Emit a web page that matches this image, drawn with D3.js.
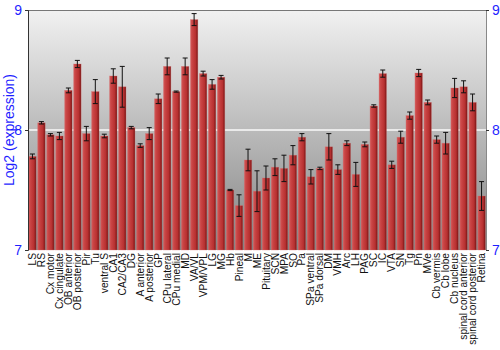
<!DOCTYPE html>
<html>
<head>
<meta charset="utf-8">
<script src="https://cdn.jsdelivr.net/npm/d3@7"></script>
<style>
  body { margin: 0; background: #fff; }
  svg text { font-family: "Liberation Sans", Arial, sans-serif; }
</style>
</head>
<body>
<figure id="bar-chart" style="margin:0"></figure>
<script>
// regions (x categories)
const regions = ["LS", "RS", "Cx motor", "Cx cingulate", "OB anterior", "OB posterior", "Pir", "Tu",
  "ventral S", "CA1", "CA2/CA3", "DG", "A anterior", "A posterior", "GP", "CPu lateral", "CPu medial",
  "MD", "VA/VL", "VPM/VPL", "LG", "MG", "Hb", "Pineal", "M", "ME", "Pituitary", "SCN", "MPA", "SO",
  "Pa", "SPa ventral", "SPa dorsal", "DM", "VMH", "Arc", "LH", "PAG", "SC", "IC", "VTA", "SN", "Tg",
  "Pn", "MVe", "Cb vermis", "Cb lobe", "Cb nucleus", "spinal cord anterior", "spinal cord posterior", "Retina"];

// log2 expression means
const expression = [7.78, 8.06, 7.96, 7.95, 8.33, 8.55, 7.97, 8.32,
  7.95, 8.45, 8.36, 8.02, 7.87, 7.97, 8.26, 8.53, 8.32,
  8.53, 8.92, 8.47, 8.38, 8.44, 7.50, 7.37, 7.75, 7.49, 7.60, 7.69, 7.68, 7.79,
  7.94, 7.61, 7.68, 7.86, 7.67, 7.89, 7.63, 7.88, 8.20, 8.47, 7.71, 7.94, 8.12,
  8.475, 8.23, 7.92, 7.89, 8.35, 8.36, 8.23, 7.45];

// half-length of error bars
const errors = [0.02, 0.01, 0.01, 0.03, 0.02, 0.03, 0.06, 0.10,
  0.015, 0.06, 0.17, 0.01, 0.015, 0.05, 0.04, 0.07, 0.005,
  0.07, 0.05, 0.02, 0.04, 0.015, 0.005, 0.09, 0.09, 0.17, 0.10, 0.07, 0.11, 0.08,
  0.03, 0.06, 0.01, 0.11, 0.04, 0.02, 0.10, 0.02, 0.01, 0.03, 0.03, 0.05, 0.03,
  0.03, 0.02, 0.03, 0.09, 0.08, 0.05, 0.07, 0.12];

const yTicks = [7, 8, 9];

const width = 500, height = 350;
const margin = { top: 10, right: 14, bottom: 100, left: 28 };
const innerWidth = width - margin.left - margin.right,
  innerHeight = height - margin.top - margin.bottom;

const svg = d3.select("figure#bar-chart").append("svg")
  .attr("width", width)
  .attr("height", height);

const defs = svg.append("defs");
const bg = defs.append("linearGradient").attr("id", "bg")
  .attr("x1", 0).attr("y1", 0).attr("x2", 0).attr("y2", 1);
bg.append("stop").attr("offset", "0%").attr("stop-color", "#f1f1f1");
bg.append("stop").attr("offset", "100%").attr("stop-color", "#848484");

const barGrad = defs.append("linearGradient").attr("id", "bar")
  .attr("x1", 0).attr("y1", 0).attr("x2", 1).attr("y2", 0);
barGrad.append("stop").attr("offset", "0%").attr("stop-color", "#d45a5a");
barGrad.append("stop").attr("offset", "25%").attr("stop-color", "#c94444");
barGrad.append("stop").attr("offset", "70%").attr("stop-color", "#b73030");
barGrad.append("stop").attr("offset", "100%").attr("stop-color", "#761414");

const g = svg.append("g")
  .attr("transform", `translate(${margin.left},${margin.top})`);

const x = d3.scaleBand()
  .domain(regions)
  .range([0, innerWidth])
  .paddingInner(0.17)
  .paddingOuter(0.08);

const y = d3.scaleLinear()
  .domain([7, 9])
  .range([innerHeight, 0]);

// background
g.append("rect")
  .attr("width", innerWidth)
  .attr("height", innerHeight)
  .attr("fill", "url(#bg)");

// grid line at 8
g.append("line")
  .attr("x1", 0).attr("x2", innerWidth)
  .attr("y1", y(8)).attr("y2", y(8))
  .attr("stroke", "#fafafa")
  .attr("stroke-width", 1.5);

// top border
g.append("line")
  .attr("x1", 0).attr("x2", innerWidth)
  .attr("y1", 0.5).attr("y2", 0.5)
  .attr("stroke", "#777");

// bars
g.selectAll("rect.bar")
  .data(regions)
  .enter()
  .append("rect")
  .attr("class", "bar")
  .attr("x", d => x(d))
  .attr("y", (d, i) => y(expression[i]))
  .attr("width", x.bandwidth())
  .attr("height", (d, i) => innerHeight - y(expression[i]))
  .attr("fill", "url(#bar)")
  .attr("stroke", "#d87070")
  .attr("stroke-opacity", 0.5)
  .attr("stroke-width", 0.6);

// error bars
const err = g.selectAll("g.err")
  .data(regions)
  .enter()
  .append("g")
  .attr("class", "err")
  .attr("stroke", "#111")
  .attr("stroke-width", 1);

const cx = d => x(d) + x.bandwidth() / 2;
err.append("line")
  .attr("x1", cx).attr("x2", cx)
  .attr("y1", (d, i) => y(expression[i] + errors[i]))
  .attr("y2", (d, i) => y(expression[i] - errors[i]));
err.append("line")
  .attr("x1", d => cx(d) - 2.5).attr("x2", d => cx(d) + 2.5)
  .attr("y1", (d, i) => y(expression[i] + errors[i]))
  .attr("y2", (d, i) => y(expression[i] + errors[i]));
err.append("line")
  .attr("x1", d => cx(d) - 2.5).attr("x2", d => cx(d) + 2.5)
  .attr("y1", (d, i) => y(expression[i] - errors[i]))
  .attr("y2", (d, i) => y(expression[i] - errors[i]));

// left axis
const left = g.append("g")
  .call(d3.axisLeft(y).tickValues(yTicks).tickFormat(d3.format("d")).tickSize(3));
left.select(".domain").attr("stroke", "#333");
left.selectAll(".tick line").attr("stroke", "#333");
left.selectAll("text").attr("fill", "#1f1fff").attr("font-size", 14);

// right axis
const right = g.append("g")
  .attr("transform", `translate(${innerWidth},0)`)
  .call(d3.axisRight(y).tickValues(yTicks).tickFormat(d3.format("d")).tickSize(3));
right.select(".domain").attr("stroke", "#888");
right.selectAll(".tick line").attr("stroke", "#333");
right.selectAll("text").attr("fill", "#1f1fff").attr("font-size", 14);

// x labels
const bottom = g.append("g")
  .attr("transform", `translate(0,${innerHeight})`)
  .call(d3.axisBottom(x).tickSize(0));
bottom.select(".domain").remove();
bottom.selectAll("text")
  .attr("transform", "rotate(-90)")
  .attr("x", -3)
  .attr("y", 0)
  .attr("dy", "0.35em")
  .style("text-anchor", "end")
  .attr("fill", "#111")
  .attr("font-size", 10.2);

// y label
svg.append("text")
  .attr("transform", "rotate(-90)")
  .attr("x", -(margin.top + innerHeight / 2))
  .attr("y", 14)
  .style("text-anchor", "middle")
  .attr("fill", "#1f1fff")
  .attr("font-size", 14)
  .text("Log2 (expression)");
</script>
</body>
</html>
